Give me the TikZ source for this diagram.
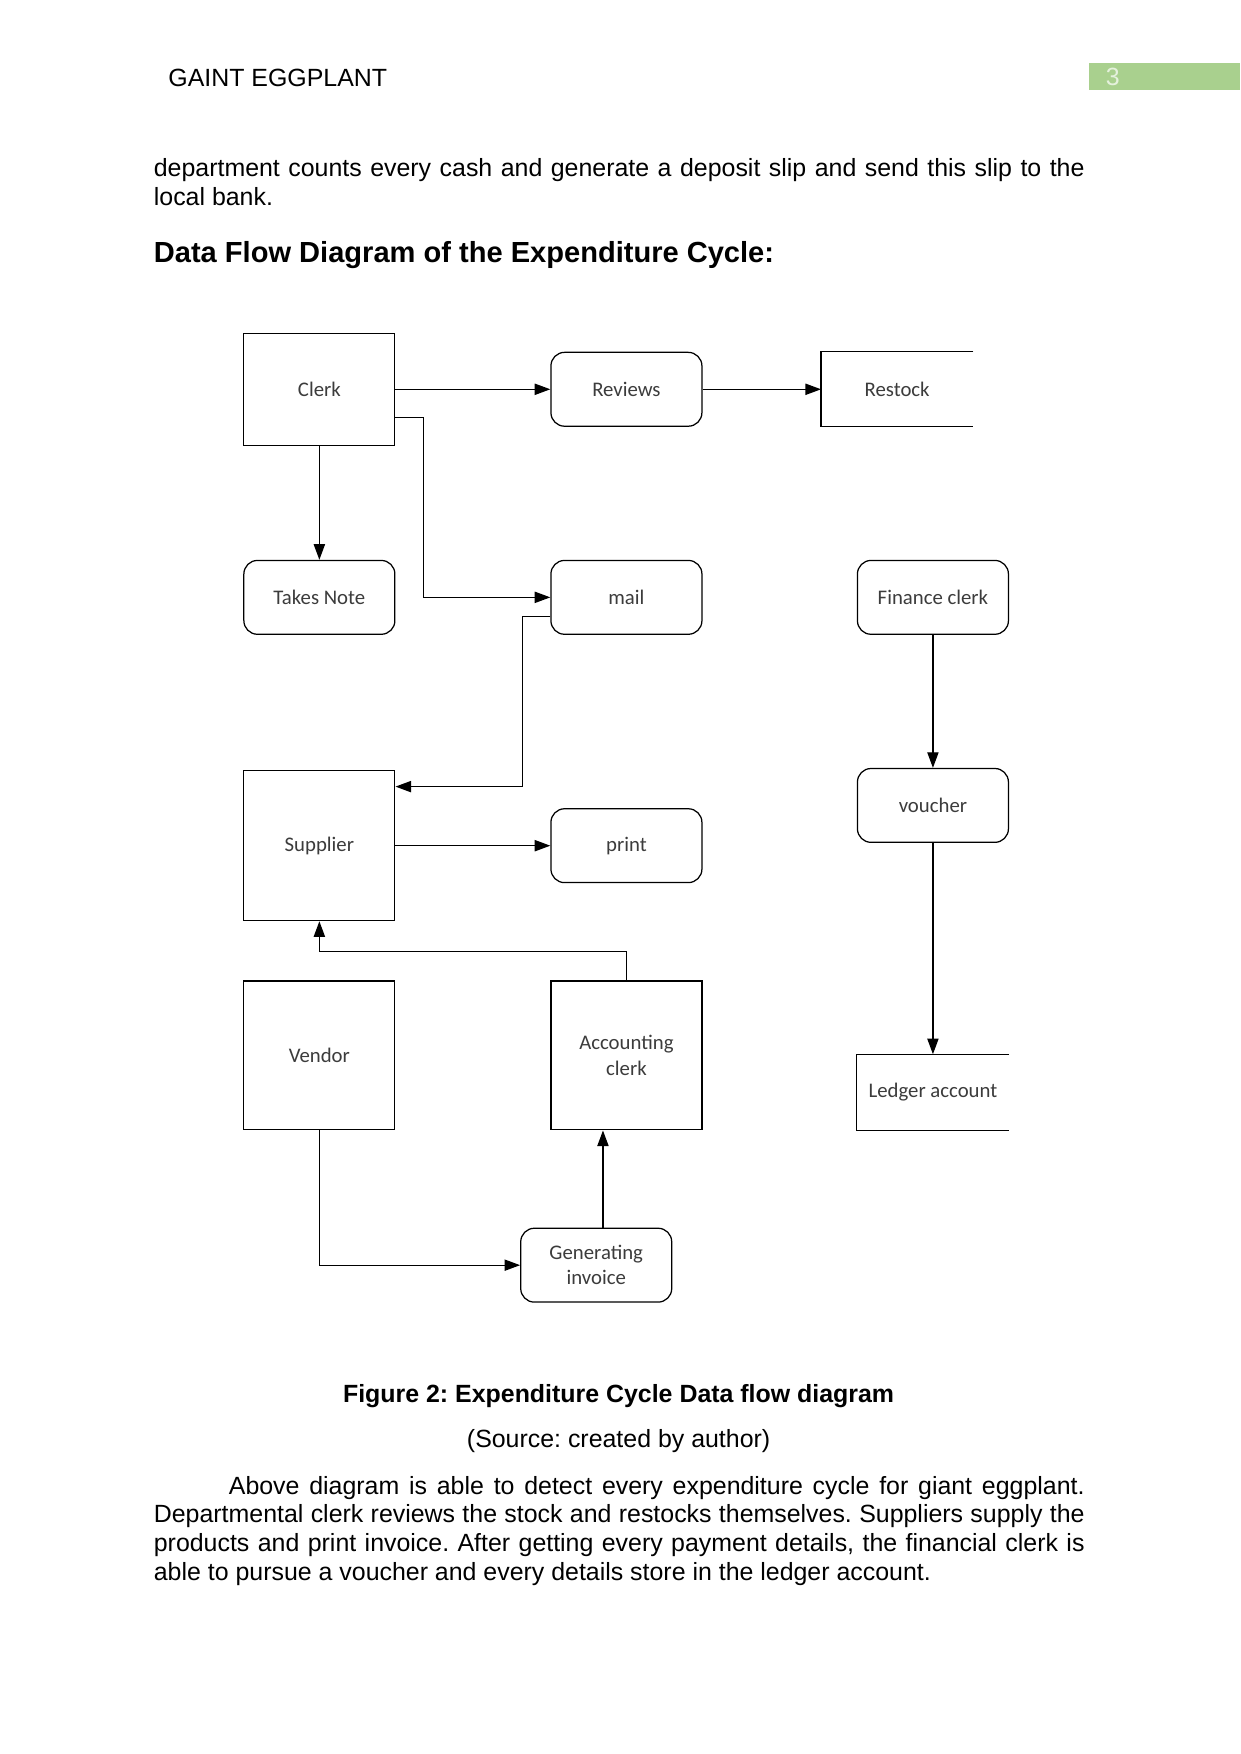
\documentclass[tikz,border=0pt]{standalone}
\usepackage{fontspec}
\setmainfont{Liberation Sans}
\newfontfamily\dfdfont{Carlito}
\definecolor{hdrgreen}{RGB}{169,208,142}
\definecolor{dfdgray}{RGB}{60,60,60}
\usetikzlibrary{arrows.meta,positioning}
\frenchspacing

\begin{document}
\begin{tikzpicture}[
  x=0.018936cm, y=-0.018936cm,
  pagetext/.style={font=\fontsize{12}{13.9}\selectfont,inner sep=0pt},
  procbox/.style={draw,rounded corners=0.23cm,font=\dfdfont\fontsize{10}{12.2}\selectfont,
    text=dfdgray,align=center,minimum width=2.556cm,minimum height=1.25cm,inner sep=0pt},
  entbox/.style={draw,font=\dfdfont\fontsize{10}{12.2}\selectfont,text=dfdgray,
    align=center,minimum width=2.556cm,inner sep=0pt},
  storebox/.style={font=\dfdfont\fontsize{10}{12.2}\selectfont,text=dfdgray,
    minimum width=2.556cm,minimum height=1.25cm,inner sep=0pt},
  flow/.style={-{Triangle[length=7.5pt,width=5.4pt]}},
  line width=0.6pt
]
  \useasboundingbox[fill=white] (0,0) rectangle (1109,1568);

  % page header
  \node[pagetext,anchor=base west] (hdr) at (150,77) {GAINT EGGPLANT};
  \node[fill=hdrgreen,anchor=north west,inner sep=0pt,minimum width=2.556cm,minimum height=0.4545cm] (pgbox) at (973,56) {};
  \node[pagetext,anchor=base west,text=white!70!hdrgreen] (pgnum) at (988,76) {3};

  % text above the figure
  \node[pagetext,anchor=north west,text width=15.755cm,align=justify] (para1) at (137,139)
    {\strut department counts every cash and generate a deposit slip and send this slip to the\linebreak local bank.};
  \node[pagetext,anchor=base west,font=\fontsize{14}{16}\selectfont\bfseries] (title) at (137,235)
    {Data Flow Diagram of the Expenditure Cycle:};

  % entities and processes
  \node[entbox,minimum height=1.894cm] (clerk) at (285.5,348) {Clerk};
  \node[procbox] (reviews) at (560,348) {Reviews};
  \node[storebox] (restock) at (802,348) {Restock};
  \node[procbox] (note) at (285.5,534) {Takes Note};
  \node[procbox] (mail) at (560,534) {mail};
  \node[procbox] (finclerk) at (834,534) {Finance clerk};
  \node[entbox,minimum height=2.537cm] (supplier) at (285.5,756) {Supplier};
  \node[procbox] (print) at (560,756) {print};
  \node[procbox] (voucher) at (834,720) {voucher};
  \node[entbox,minimum height=2.52cm] (vendor) at (285.5,943.5) {Vendor};
  \node[entbox,minimum height=2.52cm] (acct) at (560,943.5) {Accounting\\clerk};
  \node[storebox,minimum height=1.27cm] (ledger) at (834,976.5) {Ledger account};
  \node[procbox] (geninv) at (533,1131) {Generating\\invoice};

  % open-ended data stores
  \draw (restock.north east) -- (restock.north west) -- (restock.south west) -- (restock.south east);
  \draw (ledger.north east) -- (ledger.north west) -- (ledger.south west) -- (ledger.south east);

  % flows
  \draw[flow] (clerk.east) -- (reviews.west);
  \draw[flow] (reviews.east) -- (restock.west);
  \draw[flow] (clerk.south) -- (note.north);
  \draw[flow] ([yshift=-0.473cm]clerk.east) -- ++(25,0) |- (mail.west);
  \draw[flow] ([yshift=-0.322cm]mail.west) -- ++(-25,0) |- ([yshift=1.0cm]supplier.east);
  \draw[flow] (supplier.east) -- (print.west);
  \draw[flow] (acct.north) -- ++(0,-26) -| (supplier.south);
  \draw[flow] (vendor.south) |- (geninv.west);
  \coordinate (gitop) at ([xshift=0.114cm]geninv.north);
  \draw[flow] (gitop) -- (gitop |- acct.south);
  \draw[flow] (finclerk.south) -- (voucher.north);
  \draw[flow] (voucher.south) -- (ledger.north);

  % caption and text below the figure
  \node[pagetext,anchor=base,font=\fontsize{12}{13.9}\selectfont\bfseries] (cap) at (553,1254)
    {Figure 2: Expenditure Cycle Data flow diagram};
  \node[pagetext,anchor=base] (src) at (553,1294) {(Source: created by author)};
  \node[pagetext,anchor=north west,text width=15.755cm,align=justify] (para2) at (137,1317)
    {\strut\hspace*{1.27cm}Above diagram is able to detect every expenditure cycle for giant eggplant.\linebreak
     Departmental clerk reviews the stock and restocks themselves. Suppliers supply the\linebreak
     products and print invoice. After getting every payment details, the financial clerk is\linebreak
     able to pursue a voucher and every details store in the ledger account.};
\end{tikzpicture}
\end{document}
